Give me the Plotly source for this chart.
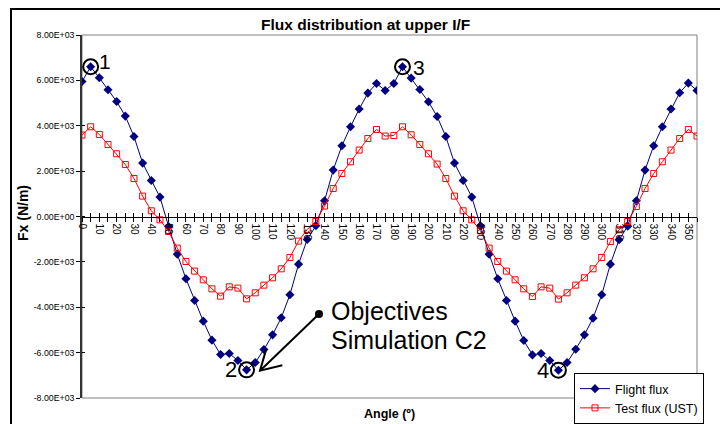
import math
import plotly.graph_objects as go

# ---------------- data ----------------
angles = list(range(0, 360, 5))
flight_flux = [5950, 6600, 6115, 5586, 5070, 4425, 3527, 2354, 1587, 855,
               -441, -1660, -2747, -3704, -4612, -5450, -6085, -6040, -6349, -6760,
               -6437, -5864, -5216, -4466, -3452, -2100, -1014, -410,
               692, 2046, 3117, 3955, 4735, 5440, 5864, 5556,
               5864, 6600, 6100, 5600, 5057, 4409, 3527, 2354, 1587, 855,
               -410, -1660, -2747, -3704, -4612, -5467, -6100, -6040, -6349, -6775,
               -6437, -5850, -5216, -4481, -3452, -2100, -1027, -425,
               692, 2046, 3117, 3955, 4735, 5454, 5879, 5556]
test_flux = [3589, 3955, 3616, 3175, 2765, 2293, 1675, 899, 251, -146,
             -661, -1393, -1984, -2407, -2791, -3188, -3510, -3100, -3157, -3629,
             -3364, -3025, -2703, -2306, -1808, -1085, -573, -220,
             459, 1235, 1896, 2412, 2928, 3439, 3836, 3545,
             3572, 3955, 3602, 3175, 2765, 2310, 1675, 899, 251, -146,
             -631, -1393, -1984, -2407, -2791, -3188, -3527, -3100, -3157, -3640,
             -3364, -3025, -2703, -2306, -1808, -1102, -586, -220,
             441, 1235, 1896, 2412, 2928, 3439, 3836, 3545]
series_names = ["Flight flux", "Test flux (UST)"]
xtick_vals = angles
xtick_text = [str(a) if a % 10 == 0 else "" for a in angles]
ytick_vals = [-8000, -6000, -4000, -2000, 0, 2000, 4000, 6000, 8000]
ytick_text = ["-8.00E+03", "-6.00E+03", "-4.00E+03", "-2.00E+03", "0.00E+00",
              "2.00E+03", "4.00E+03", "6.00E+03", "8.00E+03"]
circled_angles = [5, 95, 185, 275]
circled_labels = ["1", "2", "3", "4"]
title_text = "Flux distribution at upper I/F"
xtitle = "Angle (º)"
ytitle = "Fx (N/m)"
note_lines = ["Objectives", "Simulation C2"]

# ---------------- layout geometry ----------------
W, H = 720, 424
L, R, T, B = 82, 23, 35, 26
PW, PH = W - L - R, H - T - B


def px(x):
    return (x - L) / PW


def py(y):
    return (H - B - y) / PH


FONT = "Liberation Sans, Arial, sans-serif"
NAVY = "#000080"
RED = "#FF0000"

fig = go.Figure()
fig.add_trace(go.Scatter(
    x=angles, y=flight_flux, name=series_names[0], mode="lines+markers",
    line=dict(color=NAVY, width=1),
    marker=dict(symbol="diamond", size=7, color=NAVY)))
fig.add_trace(go.Scatter(
    x=angles, y=test_flux, name=series_names[1], mode="lines+markers",
    line=dict(color=RED, width=1),
    marker=dict(symbol="square-open", size=6, color=RED, line=dict(width=1, color=RED))))

# circled points
cy = [flight_flux[angles.index(a)] for a in circled_angles]
fig.add_trace(go.Scatter(
    x=circled_angles, y=cy, mode="markers", showlegend=False, hoverinfo="skip",
    marker=dict(symbol="circle-open", size=15, color="black", line=dict(width=2, color="black"))))
# dummy trace for overlay axes (crossing ticks)
fig.add_trace(go.Scatter(x=[None], y=[None], xaxis="x2", yaxis="y2", showlegend=False, hoverinfo="skip"))

shifts = {"1": (14, 5, 21), "2": (-16, 0, 22), "3": (16.5, -1, 21), "4": (-15.5, 0, 22)}
annotations = []
for a, v, lab in zip(circled_angles, cy, circled_labels):
    dx, dy, fs = shifts[lab]
    annotations.append(dict(x=a, y=v, xref="x", yref="y", text=lab, showarrow=False,
                            xanchor="center", yanchor="middle",
                            xshift=dx, yshift=dy, font=dict(size=fs, family=FONT, color="black")))

annotations += [
    dict(x=px(365.5), y=py(25), xref="paper", yref="paper", text="<b>%s</b>" % title_text,
         xanchor="center", yanchor="middle",
         showarrow=False, font=dict(size=15.5, family=FONT, color="black")),
    dict(x=px(389), y=py(414), xref="paper", yref="paper", text="<b>%s</b>" % xtitle,
         xanchor="center", yanchor="middle",
         showarrow=False, font=dict(size=12.5, family=FONT, color="black")),
    dict(x=px(23), y=py(213), xref="paper", yref="paper", text="<b>%s</b>" % ytitle,
         xanchor="center", yanchor="middle",
         textangle=-90, showarrow=False, font=dict(size=14, family=FONT, color="black")),
    dict(x=px(329), y=py(311), xref="paper", yref="paper", text=note_lines[0],
         xanchor="left", yanchor="middle", showarrow=False,
         font=dict(size=25, family=FONT, color="black")),
    dict(x=px(329), y=py(340), xref="paper", yref="paper", text=note_lines[1],
         xanchor="left", yanchor="middle", showarrow=False,
         font=dict(size=25, family=FONT, color="black")),
]

# arrow geometry (pixels)
tip = (260, 370.7)
start = (319, 314)
ang = math.atan2(start[1] - tip[1], start[0] - tip[0])
arm = 23
a1 = (tip[0] + arm * math.cos(ang + math.radians(30)), tip[1] + arm * math.sin(ang + math.radians(30)))
a2 = (tip[0] + arm * math.cos(ang - math.radians(30)), tip[1] + arm * math.sin(ang - math.radians(30)))

shapes = [
    # plot area border (gray)
    dict(type="rect", xref="paper", yref="paper", x0=0, x1=1, y0=0, y1=1,
         line=dict(color="#808080", width=1), layer="below"),
    # outer chart border (left + top)
    dict(type="path", xref="paper", yref="paper",
         path="M %f,%f L %f,%f L %f,%f" % (px(11), py(430), px(11), py(9), px(725), py(9)),
         line=dict(color="black", width=2)),
    # arrow
    dict(type="line", xref="paper", yref="paper", x0=px(start[0]), y0=py(start[1]),
         x1=px(tip[0]), y1=py(tip[1]), line=dict(color="black", width=2)),
    dict(type="path", xref="paper", yref="paper",
         path="M %f,%f L %f,%f L %f,%f" % (px(a1[0]), py(a1[1]), px(tip[0]), py(tip[1]), px(a2[0]), py(a2[1])),
         line=dict(color="black", width=2)),
    dict(type="circle", xref="paper", yref="paper", x0=px(start[0] - 4), x1=px(start[0] + 4),
         y0=py(start[1] + 4), y1=py(start[1] - 4), fillcolor="black", line=dict(color="black", width=0)),
]

xr = [0, 355]
yr = [-8000, 8000]
fig.update_layout(
    width=W, height=H, margin=dict(l=L, r=R, t=T, b=B, pad=0, autoexpand=False),
    paper_bgcolor="white", plot_bgcolor="white",
    font=dict(family=FONT, color="black"),
    showlegend=True,
    legend=dict(x=px(574), y=py(373),
                xanchor="left", yanchor="top", bgcolor="white", bordercolor="black",
                borderwidth=1, font=dict(size=12.5, family=FONT, color="black"),
                tracegroupgap=0, itemwidth=30),
    xaxis=dict(range=xr, anchor="free", position=0.5, showgrid=False, zeroline=False,
               showline=True, linecolor="black", linewidth=1,
               tickmode="array", tickvals=xtick_vals, ticktext=xtick_text,
               ticks="outside", ticklen=4, tickcolor="black", tickwidth=1,
               tickangle=90, tickfont=dict(size=10, family=FONT, color="black")),
    xaxis2=dict(range=xr, overlaying="x", anchor="free", position=0.5, showgrid=False,
                zeroline=False, showline=False, tickmode="array", tickvals=xtick_vals,
                ticks="inside", ticklen=4, tickcolor="black", tickwidth=1, showticklabels=False),
    yaxis=dict(range=yr, showgrid=False, zeroline=False, showline=True, linecolor="#333333",
               linewidth=1.5, tickmode="array", tickvals=ytick_vals, ticktext=ytick_text,
               ticks="outside", ticklen=4, tickcolor="black", tickwidth=1,
               tickfont=dict(size=8.8, family=FONT, color="black")),
    yaxis2=dict(range=yr, overlaying="y", showgrid=False, zeroline=False, showline=False,
                tickmode="array", tickvals=ytick_vals, ticks="inside", ticklen=3,
                tickcolor="black", tickwidth=1, showticklabels=False),
    annotations=annotations,
    shapes=shapes,
)

fig.write_html("out.html")
